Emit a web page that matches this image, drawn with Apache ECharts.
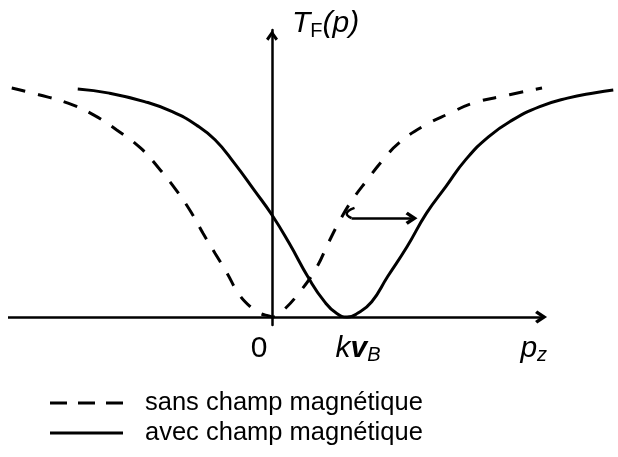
<!DOCTYPE html>
<html>
<head>
<meta charset="utf-8">
<script src="https://cdn.jsdelivr.net/npm/echarts@6/dist/echarts.min.js"></script>
<style>
html,body{margin:0;padding:0;background:#fff;}
#chart{width:618px;height:457px;}
</style>
</head>
<body>
<div id="chart"></div>
<script>
// ---- data (p_z in units where kvB = 1, T_F normalised to 1 far from resonance) ----
const seriesNames = ['sans champ magnétique', 'avec champ magnétique'];
const dashedP = [-3.47,-3.11,-2.72,-2.38,-2.07,-1.75,-1.49,-1.28,-1.07,-0.92,-0.76,-0.60,-0.45,-0.29,-0.16,-0.03,0.00,0.13,0.39,0.60,0.75,0.91,1.07,1.27,1.48,1.69,2.01,2.37,2.68,3.05,3.60];
const dashedT = [1.001,0.972,0.935,0.884,0.818,0.738,0.643,0.556,0.454,0.366,0.279,0.192,0.104,0.045,0.016,0.004,0.000,0.023,0.118,0.220,0.323,0.425,0.512,0.600,0.687,0.760,0.833,0.891,0.935,0.964,1.001];
const solidP = [-2.59,-2.17,-1.70,-1.33,-1.01,-0.76,-0.50,-0.24,0.00,0.23,0.49,0.70,0.86,1.00,1.14,1.33,1.54,1.80,2.06,2.32,2.58,2.89,3.21,3.57,3.94,4.31,4.55];
const solidT = [0.997,0.979,0.942,0.898,0.840,0.775,0.672,0.556,0.446,0.322,0.169,0.067,0.016,0.000,0.016,0.067,0.176,0.307,0.454,0.571,0.687,0.789,0.862,0.920,0.957,0.981,0.993];
const shiftP = [1.10,0.996,1.06];
const shiftT = [0.477,0.451,0.432];
const shiftEnd = [1.86,0.432];
const axisXStart = -3.52;
const axisXEnd = 3.587;
const tickValues = [0, 1.0, 3.49];
const tickLabels = ['{zero|0}', '{k|k}{v|v}{sub|B}', '{p|p}{sub|z}'];
const axisName = '{t|T}{f|F}{t|(p)}';

const FONT = '"Liberation Sans", Arial, Helvetica, sans-serif';
const CHEVRON = 'path://M5,0 L10,7 L8,8.6 L5,4.4 L2,8.6 L0,7 Z';
const DASH_ICON = 'path://M0,0 H17 V3 H0 Z M28,0 H45 V3 H28 Z M56,0 H73 V3 H56 Z';
const SOLID_ICON = 'path://M0,0 H73 V3 H0 Z';

const zip = (a, b) => a.map((v, i) => [v, b[i]]);

const chart = echarts.init(document.getElementById('chart'), null, {renderer: 'canvas'});
chart.setOption({
  animation: false,
  backgroundColor: '#fff',
  color: ['#000'],
  grid: {left: 8, right: 0, top: 30, bottom: 132, containLabel: false},
  xAxis: {
    type: 'value', min: -3.52, max: 4.613,
    axisLine: {show: true, onZero: true, symbol: 'none', lineStyle: {color: '#000', width: 0, opacity: 0}},
    axisTick: {show: false},
    splitLine: {show: false},
    axisLabel: {
      show: true, customValues: tickValues, margin: 8,
      formatter: function (v) { const i = tickValues.indexOf(v); return i >= 0 ? tickLabels[i] : ''; },
      rich: {
        zero: {fontSize: 30, fontFamily: FONT, color: '#000', lineHeight: 32, padding: [0, 26, 0, 0]},
        k: {fontSize: 30, fontFamily: FONT, fontStyle: 'italic', color: '#000', lineHeight: 32, padding: [0, 0, 0, 22]},
        v: {fontSize: 30, fontFamily: FONT, fontStyle: 'italic', fontWeight: 'bold', color: '#000', lineHeight: 32},
        p: {fontSize: 30, fontFamily: FONT, fontStyle: 'italic', color: '#000', lineHeight: 32},
        sub: {fontSize: 20, fontFamily: FONT, fontStyle: 'italic', color: '#000', lineHeight: 10, verticalAlign: 'bottom'}
      }
    }
  },
  yAxis: {
    type: 'value', min: -0.035, max: 1.255,
    axisLine: {show: true, onZero: true, symbol: ['none', CHEVRON], symbolSize: [12, 11], symbolOffset: [0, -5.5],
      lineStyle: {color: '#000', width: 2.5}},
    axisTick: {show: false},
    axisLabel: {show: false},
    splitLine: {show: false},
    name: axisName, nameLocation: 'end', nameGap: 6,
    nameTextStyle: {
      align: 'left', verticalAlign: 'middle', padding: [0, 0, 0, 20],
      rich: {
        t: {fontSize: 30, fontFamily: FONT, fontStyle: 'italic', color: '#000', lineHeight: 34},
        f: {fontSize: 20, fontFamily: FONT, color: '#000', lineHeight: 26, verticalAlign: 'bottom'}
      }
    }
  },
  legend: {
    orient: 'vertical', left: 45, top: 383, itemWidth: 73, itemHeight: 3, itemGap: 0,
    selectedMode: false,
    itemStyle: {color: '#000', borderWidth: 0},
    data: [
      {name: seriesNames[0], icon: DASH_ICON},
      {name: seriesNames[1], icon: SOLID_ICON}
    ],
    textStyle: {fontSize: 25.5, fontFamily: FONT, color: '#000', lineHeight: 30, padding: [0, 0, 0, 17]}
  },
  series: [
    {
      name: seriesNames[0], type: 'line', data: zip(dashedP, dashedT),
      symbol: 'none', smooth: 0.45, clip: false, silent: true,
      itemStyle: {color: '#000'},
      lineStyle: {color: '#000', width: 3, type: [14, 13]}
    },
    {
      name: seriesNames[1], type: 'line', data: zip(solidP, solidT),
      symbol: 'none', smooth: 0.5, clip: false, silent: true,
      itemStyle: {color: '#000'},
      lineStyle: {color: '#000', width: 3, type: 'solid'}
    },
    {
      name: 'shift', type: 'line', data: zip(shiftP, shiftT),
      symbol: 'none', smooth: 0.5, clip: false, silent: true,
      itemStyle: {color: '#000'},
      lineStyle: {color: '#000', width: 2.5},
      markLine: {
        silent: true, animation: false,
        symbol: ['none', CHEVRON], symbolSize: [13, 12],
        label: {show: false},
        lineStyle: {color: '#000', width: 2.5, type: 'solid'},
        emphasis: {disabled: true},
        data: [
          [{coord: [shiftP[2], shiftT[2]]}, {coord: shiftEnd}],
          [{coord: [axisXStart, 0]}, {coord: [axisXEnd, 0]}]
        ]
      }
    }
  ]
});
</script>
</body>
</html>
